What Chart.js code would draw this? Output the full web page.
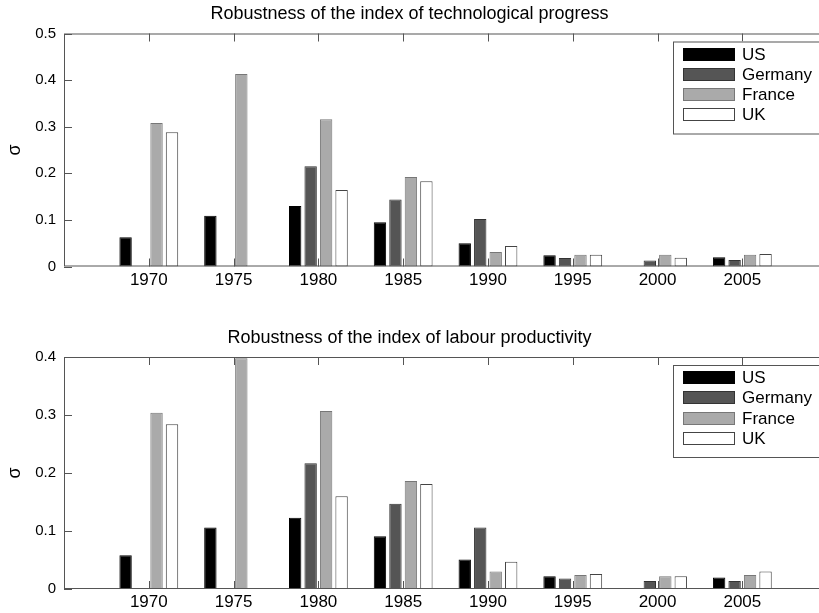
<!DOCTYPE html>
<html>
<head>
<meta charset="utf-8">
<script src="https://cdn.jsdelivr.net/npm/chart.js@4/dist/chart.umd.min.js"></script>
<style>
    html, body { margin: 0; padding: 0; background: #fff; overflow: hidden; }
    .panel { position: absolute; left: 0; width: 819px; }
    #panel-tech { top: 0; }
    #panel-labour { top: 320px; }
</style>
</head>
<body>
<div class="panel" id="panel-tech"><canvas id="chart-tech" width="819" height="300"></canvas></div>
<div class="panel" id="panel-labour"><canvas id="chart-labour" width="819" height="293"></canvas></div>
<script>
// 1. Data
const years = [1970, 1975, 1980, 1985, 1990, 1995, 2000, 2005];
const countries = ['US', 'Germany', 'France', 'UK'];

// technological progress
const techUS      = [0.063, 0.109, 0.130, 0.095, 0.050, 0.024, 0,     0.020];
const techGermany = [0,     0,     0.215, 0.144, 0.102, 0.018, 0.013, 0.014];
const techFrance  = [0.308, 0.413, 0.316, 0.192, 0.031, 0.025, 0.025, 0.025];
const techUK      = [0.288, 0,     0.164, 0.183, 0.044, 0.025, 0.019, 0.027];

// labour productivity
const labourUS      = [0.058, 0.106, 0.123, 0.091, 0.051, 0.022, 0,     0.020];
const labourGermany = [0,     0,     0.217, 0.147, 0.106, 0.018, 0.014, 0.014];
const labourFrance  = [0.304, 0.398, 0.307, 0.186, 0.030, 0.024, 0.022, 0.024];
const labourUK      = [0.284, 0,     0.160, 0.181, 0.047, 0.026, 0.022, 0.030];

const fills   = ['#000000', '#555555', '#aaaaaa', '#ffffff'];
const borders = ['#000000', '#333333', '#777777', '#444444'];

// 2. Plugins (MATLAB style box, inward ticks, boxed legend)
const axisBox = {
    id: 'axisBox',
    afterDatasetsDraw(chart) {
        const { ctx, chartArea: a, scales: { x, y } } = chart;
        ctx.save();
        ctx.strokeStyle = '#555';
        ctx.lineWidth = 1;
        ctx.strokeRect(a.left + 0.5, a.top + 0.5, a.right - a.left, a.bottom - a.top - 1);
        ctx.beginPath();
        y.ticks.forEach(t => {
            const py = Math.round(y.getPixelForValue(t.value)) + 0.5;
            ctx.moveTo(a.left, py);
            ctx.lineTo(a.left + 8, py);
        });
        x.ticks.forEach(t => {
            const px = Math.round(x.getPixelForValue(t.value)) + 0.5;
            ctx.moveTo(px, a.bottom);
            ctx.lineTo(px, a.bottom - 8);
            ctx.moveTo(px, a.top);
            ctx.lineTo(px, a.top + 8);
        });
        ctx.stroke();
        ctx.restore();
    }
};

const boxedLegend = {
    id: 'boxedLegend',
    afterDraw(chart) {
        const { ctx, chartArea: a } = chart;
        const left = a.right - 146;
        const top = a.top + 8;
        ctx.save();
        ctx.fillStyle = '#fff';
        ctx.fillRect(left, top, 170, 92);
        ctx.strokeStyle = '#555';
        ctx.lineWidth = 1;
        ctx.strokeRect(left + 0.5, top + 0.5, 170, 92);
        ctx.font = '17px "Liberation Sans", Arial, sans-serif';
        ctx.textBaseline = 'middle';
        chart.data.datasets.forEach((ds, i) => {
            const ry = Math.round(top + 6 + i * 20.3);
            ctx.fillStyle = ds.backgroundColor;
            ctx.fillRect(left + 10, ry, 52, 13);
            ctx.strokeStyle = ds.borderColor;
            ctx.strokeRect(left + 10.5, ry + 0.5, 51, 12);
            ctx.fillStyle = '#000';
            ctx.fillText(ds.label, left + 69, ry + 7);
        });
        ctx.restore();
    }
};

// 3. Chart builder
function buildChart(canvasId, title, series, yMax, titlePad, xAxisHeight, labelPad) {
    const ctx = document.getElementById(canvasId).getContext('2d');
    return new Chart(ctx, {
        type: 'bar',
        data: {
            datasets: countries.map((name, i) => ({
                label: name,
                data: years.map((yr, j) => ({ x: yr, y: series[i][j] })),
                backgroundColor: fills[i],
                borderColor: borders[i],
                borderWidth: 1,
                borderSkipped: false,
                categoryPercentage: 0.73,
                barPercentage: 0.8
            }))
        },
        options: {
            responsive: false,
            animation: false,
            layout: { padding: 0 },
            plugins: {
                legend: { display: false },
                tooltip: { enabled: false },
                title: {
                    display: true,
                    text: title,
                    color: '#000',
                    font: { size: 18, weight: 'normal' },
                    padding: titlePad
                }
            },
            scales: {
                x: {
                    type: 'linear',
                    offset: false,
                    min: 1965,
                    max: 2009.52,
                    grid: { display: false, drawTicks: false },
                    border: { display: false },
                    afterBuildTicks: s => { s.ticks = years.map(v => ({ value: v })); },
                    afterFit: s => { s.height = xAxisHeight; },
                    ticks: {
                        autoSkip: false,
                        maxRotation: 0,
                        padding: labelPad,
                        color: '#000',
                        font: { size: 17 },
                        callback: v => String(v)
                    }
                },
                y: {
                    min: 0,
                    max: yMax,
                    grid: { display: false, drawTicks: false },
                    border: { display: false },
                    afterFit: s => { s.width = 64; },
                    ticks: {
                        stepSize: 0.1,
                        padding: 8,
                        color: '#000',
                        font: { size: 15 }
                    },
                    title: {
                        display: true,
                        text: 'σ',
                        color: '#000',
                        font: { size: 18 },
                        padding: { top: 4, bottom: 0 }
                    }
                }
            }
        },
        plugins: [axisBox, boxedLegend]
    });
}

// 4. Init
Chart.defaults.font.family = '"Liberation Sans", Arial, sans-serif';

buildChart('chart-tech', 'Robustness of the index of technological progress',
    [techUS, techGermany, techFrance, techUK], 0.5,
    { top: 3.2, bottom: 8.7 }, 33.5, 4);

buildChart('chart-labour', 'Robustness of the index of labour productivity',
    [labourUS, labourGermany, labourFrance, labourUK], 0.4,
    { top: 7.2, bottom: 8.2 }, 24, 3);
</script>
</body>
</html>
